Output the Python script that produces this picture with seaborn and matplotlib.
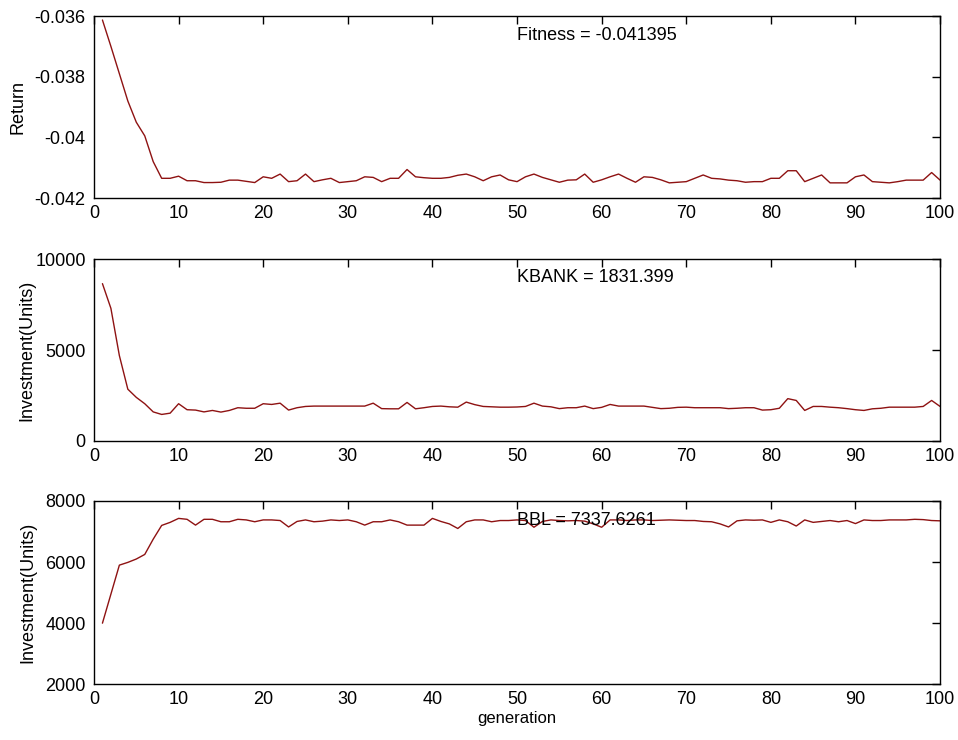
import numpy as np
import pandas as pd
import matplotlib
matplotlib.use('Agg')
import matplotlib.pyplot as plt
import seaborn as sns

# generation index
generation = np.arange(1, 101)

# Return per generation
ret = [
    -0.03613, -0.03700, -0.03790, -0.03880, -0.03950, -0.03995, -0.04080, -0.04135, -0.04135, -0.04128,
    -0.04143, -0.04143, -0.04149, -0.04149, -0.04148, -0.04141, -0.04141, -0.04145, -0.04149, -0.04130,
    -0.04135, -0.04121, -0.04146, -0.04143, -0.04121, -0.04146, -0.04140, -0.04135, -0.04149, -0.04146,
    -0.04143, -0.04130, -0.04132, -0.04146, -0.04135, -0.04135, -0.04106, -0.04130, -0.04133, -0.04135,
    -0.04135, -0.04132, -0.04125, -0.04121, -0.04130, -0.04143, -0.04130, -0.04124, -0.04140, -0.04146,
    -0.04130, -0.04121, -0.04132, -0.04140, -0.04148, -0.04141, -0.04140, -0.04121, -0.04148, -0.04140,
    -0.04130, -0.04121, -0.04135, -0.04148, -0.04130, -0.04132, -0.04140, -0.04150, -0.04148, -0.04146,
    -0.04135, -0.04124, -0.04135, -0.04137, -0.04141, -0.04143, -0.04148, -0.04146, -0.04146, -0.04135,
    -0.04135, -0.04110, -0.04110, -0.04146, -0.04135, -0.04124, -0.04150, -0.04150, -0.04150, -0.04130,
    -0.04124, -0.04146, -0.04148, -0.04150, -0.04146, -0.04141, -0.04141, -0.04141, -0.04116, -0.04141,
]

# KBANK investment per generation
kbank = [
    8660, 7300, 4700, 2850, 2400, 2050, 1600, 1460, 1530, 2050,
    1720, 1700, 1600, 1680, 1590, 1680, 1830, 1800, 1800, 2050,
    2010, 2080, 1700, 1830, 1900, 1920, 1920, 1920, 1920, 1920,
    1920, 1920, 2080, 1780, 1770, 1770, 2120, 1770, 1830, 1900,
    1920, 1880, 1860, 2140, 2000, 1900, 1880, 1860, 1860, 1870,
    1900, 2080, 1920, 1880, 1780, 1830, 1830, 1920, 1780, 1850,
    2010, 1920, 1920, 1920, 1920, 1850, 1780, 1800, 1850, 1860,
    1830, 1830, 1830, 1830, 1780, 1800, 1830, 1830, 1700, 1720,
    1800, 2330, 2230, 1680, 1900, 1900, 1860, 1830, 1780, 1720,
    1680, 1770, 1800, 1860, 1860, 1860, 1860, 1900, 2230, 1900,
]

# BBL investment per generation
bbl = [
    4000, 4950, 5900, 5990, 6100, 6250, 6750, 7200, 7300, 7430,
    7400, 7210, 7400, 7400, 7320, 7320, 7400, 7380, 7320, 7380,
    7380, 7360, 7150, 7330, 7380, 7320, 7340, 7380, 7360, 7380,
    7320, 7210, 7320, 7320, 7380, 7320, 7210, 7210, 7210, 7430,
    7330, 7250, 7100, 7320, 7380, 7380, 7320, 7360, 7360, 7380,
    7360, 7140, 7330, 7380, 7360, 7350, 7360, 7340, 7250, 7140,
    7380, 7380, 7360, 7380, 7380, 7360, 7370, 7380, 7370, 7360,
    7360, 7330, 7320, 7250, 7150, 7350, 7380, 7370, 7380, 7300,
    7380, 7320, 7180, 7380, 7300, 7330, 7360, 7320, 7360, 7260,
    7380, 7360, 7360, 7380, 7380, 7380, 7400, 7390, 7360, 7350,
]

x_ticks = [0, 10, 20, 30, 40, 50, 60, 70, 80, 90, 100]
ret_ticks = [-0.042, -0.040, -0.038, -0.036]
ret_labels = ['-0.042', '-0.04', '-0.038', '-0.036']
kbank_ticks = [0, 5000, 10000]
bbl_ticks = [2000, 4000, 6000, 8000]

notes = ['Fitness = -0.041395', 'KBANK = 1831.399', 'BBL = 7337.6261']
note_y = [-0.03663, 9010, 7377]

sns.set_theme(style='white')
plt.rcParams['font.family'] = ['Liberation Sans', 'DejaVu Sans']
plt.rcParams['text.color'] = 'black'
plt.rcParams['axes.labelcolor'] = 'black'

df = pd.DataFrame({'generation': generation, 'Return': ret,
                   'KBANK': kbank, 'BBL': bbl})

fig = plt.figure(figsize=(9.58, 7.40), dpi=100)
ax1 = fig.add_axes([0.0981, 0.7324, 0.8832, 0.2459])
ax2 = fig.add_axes([0.0981, 0.4041, 0.8832, 0.2455])
ax3 = fig.add_axes([0.0981, 0.0753, 0.8832, 0.2477])

line_col = '#8e1212'
panels = [
    (ax1, 'Return', 'Return', (-0.042, -0.036), ret_ticks, ret_labels, -0.080),
    (ax2, 'KBANK', 'Investment(Units)', (0, 10000), kbank_ticks, [str(t) for t in kbank_ticks], -0.069),
    (ax3, 'BBL', 'Investment(Units)', (2000, 8000), bbl_ticks, [str(t) for t in bbl_ticks], -0.068),
]

for i, (ax, col, ylab, ylim, yt, ytl, lx) in enumerate(panels):
    sns.lineplot(data=df, x='generation', y=col, ax=ax, color=line_col, linewidth=1.0)
    ax.set_xlim(0, 100)
    ax.set_ylim(*ylim)
    ax.set_xticks(x_ticks)
    ax.set_xticklabels([str(t) for t in x_ticks])
    ax.set_yticks(yt)
    ax.set_yticklabels(ytl)
    ax.set_ylabel(ylab, fontsize=13)
    ax.yaxis.set_label_coords(lx, 0.5)
    ax.set_xlabel('')
    ax.tick_params(direction='in', length=6, width=1, top=True, right=True,
                   labelsize=13, colors='black')
    ax.tick_params(axis='y', pad=6)
    ax.tick_params(axis='x', pad=5)
    for s in ax.spines.values():
        s.set_visible(True)
        s.set_color('black')
        s.set_linewidth(1)
    ax.text(50, note_y[i], notes[i], ha='left', va='center', fontsize=13, color='black')

ax3.set_xlabel('generation', fontsize=12, labelpad=2)

fig.savefig('out.png', dpi=100, facecolor='white')
